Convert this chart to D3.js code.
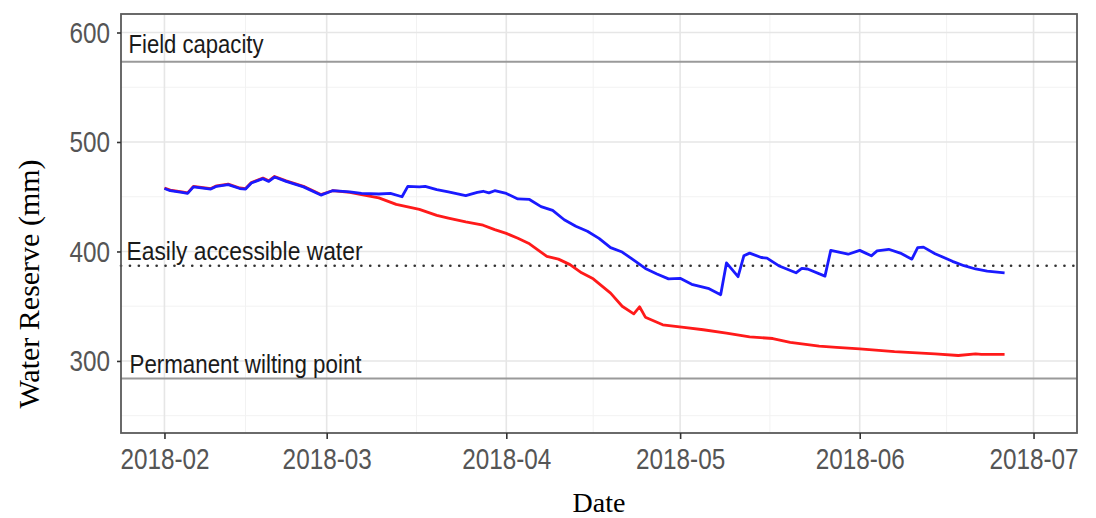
<!DOCTYPE html>
<html>
<head>
<meta charset="utf-8">
<script src="https://cdn.jsdelivr.net/npm/d3@7"></script>
<style>
  body { margin: 0; background: #fff; }
  #chart { width: 1096px; height: 518px; }
</style>
</head>
<body>
<div id="chart"></div>
<script>
'use strict';
// blue series (dates + water reserve, mm)
const blueDates = ["2018-02-01","2018-02-02","2018-02-04","2018-02-05","2018-02-06","2018-02-09","2018-02-10",
  "2018-02-12","2018-02-14","2018-02-15","2018-02-16","2018-02-18","2018-02-19","2018-02-20","2018-02-22",
  "2018-02-25","2018-02-28","2018-03-02","2018-03-05","2018-03-07","2018-03-10","2018-03-12","2018-03-14",
  "2018-03-15","2018-03-17","2018-03-18","2018-03-20","2018-03-22","2018-03-25","2018-03-27","2018-03-28",
  "2018-03-29","2018-03-30","2018-04-01","2018-04-03","2018-04-05","2018-04-07","2018-04-09","2018-04-11",
  "2018-04-13","2018-04-15","2018-04-17","2018-04-19","2018-04-21","2018-04-23","2018-04-25","2018-04-27",
  "2018-04-29","2018-05-01","2018-05-03","2018-05-06","2018-05-08","2018-05-09","2018-05-11","2018-05-12",
  "2018-05-13","2018-05-15","2018-05-16","2018-05-18","2018-05-21","2018-05-22","2018-05-23","2018-05-26",
  "2018-05-27","2018-05-30","2018-06-01","2018-06-03","2018-06-04","2018-06-06","2018-06-08","2018-06-10",
  "2018-06-11","2018-06-12","2018-06-14","2018-06-17","2018-06-19","2018-06-21","2018-06-23","2018-06-26"];
const blueValues = [457.5,455.5,454,453,459,457,459.5,
  461,457.5,457,462.5,466.5,464,468,464,
  459,451.5,455.5,454.5,453,452.5,453,450,
  459.5,459,459.5,456.5,454.5,451,454,455,
  453.5,455.5,453,448,447.5,441,437.5,429,
  423,418.5,412,403.5,399.5,392,384.5,379.5,
  375,375.5,370,366,360.5,389.5,377,396,
  398.5,394.5,394,387,380.5,384.5,384,377.5,
  401,397.5,401,396,400.5,402,398.5,393,
  403.5,404,398,391,387,384,382,380.5];

// red series
const redDates = ["2018-02-01","2018-02-02","2018-02-04","2018-02-05","2018-02-06","2018-02-09","2018-02-10",
  "2018-02-12","2018-02-14","2018-02-15","2018-02-16","2018-02-18","2018-02-19","2018-02-20","2018-02-22",
  "2018-02-25","2018-02-28","2018-03-02","2018-03-05","2018-03-07","2018-03-10","2018-03-13","2018-03-17",
  "2018-03-20","2018-03-22","2018-03-25","2018-03-28","2018-03-30","2018-04-01","2018-04-03","2018-04-05",
  "2018-04-08","2018-04-10","2018-04-12","2018-04-14","2018-04-16","2018-04-19","2018-04-21","2018-04-23",
  "2018-04-24","2018-04-25","2018-04-28","2018-05-02","2018-05-05","2018-05-09","2018-05-13","2018-05-17",
  "2018-05-20","2018-05-25","2018-05-28","2018-06-01","2018-06-07","2018-06-14","2018-06-18","2018-06-21",
  "2018-06-22","2018-06-26"];
const redValues = [458,456,454.5,453.5,459.5,457.5,460,
  461.5,458,457.5,463,467,464.5,468.5,464.5,
  459.5,452,455.5,454,452,449,443,438.5,
  433,430.5,427,424,420,416.5,412,407,
  395.5,393,388,380.5,375,362,350,343,
  349.5,340,333,330.5,328.5,325.5,322,320.5,
  317,313.5,312.5,311,308.5,306.5,305,306.5,
  306,306];

// reference levels
const levelNames = ["Field capacity", "Easily accessible water", "Permanent wilting point"];
const levelValues = [573.3, 387, 284];
const levelDotted = [false, true, false];

const yTicks = [300, 400, 500, 600];
const yMinorTicks = [250, 350, 450, 550];
const xExtent = ["2018-02-01", "2018-07-01"];

function drawChart(divId) {
  let width = 1096, height = 518;
  let panel = { left: 121, right: 1077, top: 14, bottom: 433 };
  let parse = d3.utcParse("%Y-%m-%d");
  let squeeze = 0.81;

  let blue = blueDates.map((d, i) => ({ date: parse(d), value: blueValues[i] }));
  let red = redDates.map((d, i) => ({ date: parse(d), value: redValues[i] }));

  // ggplot style 5% expansion of x range
  let t0 = parse(xExtent[0]).getTime(), t1 = parse(xExtent[1]).getTime();
  let pad = (t1 - t0) * 0.05;
  let x = d3.scaleUtc()
    .domain([new Date(t0 - pad), new Date(t1 + pad)])
    .range([panel.left, panel.right]);
  let y = d3.scaleLinear()
    .domain([234.2, 616.9])
    .range([panel.bottom, panel.top]);

  let svg = d3.select("#" + divId)
    .append("svg")
    .attr("width", width)
    .attr("height", height)
    .style("font-family", "'Liberation Sans', Arial, sans-serif");

  svg.append("rect").attr("width", width).attr("height", height).attr("fill", "#fff");

  // grid
  let xMajor = x.ticks(d3.utcMonth.every(1));
  let xMinor = [];
  for (let i = 0; i < xMajor.length - 1; ++i)
    xMinor.push(new Date((xMajor[i].getTime() + xMajor[i + 1].getTime()) / 2));

  let grid = svg.append("g");
  grid.selectAll("line.xminor").data(xMinor).enter().append("line")
    .attr("x1", d => x(d)).attr("x2", d => x(d))
    .attr("y1", panel.top).attr("y2", panel.bottom)
    .attr("stroke", "#f2f2f2").attr("stroke-width", 1);
  grid.selectAll("line.yminor").data(yMinorTicks).enter().append("line")
    .attr("x1", panel.left).attr("x2", panel.right)
    .attr("y1", d => y(d)).attr("y2", d => y(d))
    .attr("stroke", "#f2f2f2").attr("stroke-width", 1);
  grid.selectAll("line.xmajor").data(xMajor).enter().append("line")
    .attr("x1", d => x(d)).attr("x2", d => x(d))
    .attr("y1", panel.top).attr("y2", panel.bottom)
    .attr("stroke", "#e6e6e6").attr("stroke-width", 1.6);
  grid.selectAll("line.ymajor").data(yTicks).enter().append("line")
    .attr("x1", panel.left).attr("x2", panel.right)
    .attr("y1", d => y(d)).attr("y2", d => y(d))
    .attr("stroke", "#e6e6e6").attr("stroke-width", 1.6);

  // reference lines
  svg.selectAll("line.level").data(levelValues).enter().append("line")
    .attr("x1", panel.left).attr("x2", panel.right)
    .attr("y1", d => y(d)).attr("y2", d => y(d))
    .attr("stroke", (d, i) => levelDotted[i] ? "#333" : "#9a9a9a")
    .attr("stroke-width", (d, i) => levelDotted[i] ? 2.6 : 1.8)
    .attr("stroke-linecap", (d, i) => levelDotted[i] ? "round" : "butt")
    .attr("stroke-dasharray", (d, i) => levelDotted[i] ? "0.1,8.8" : null);

  let labelOffset = [8.5, 6, 5];
  let labelWidth = [135, 236, 232];
  let labelX = [128.5, 126.5, 129.5];
  svg.selectAll("text.level").data(levelNames).enter().append("text")
    .attr("x", (d, i) => labelX[i])
    .attr("y", (d, i) => y(levelValues[i]) - labelOffset[i])
    .attr("font-size", "25px")
    .attr("fill", "#1a1a1a")
    .attr("textLength", (d, i) => labelWidth[i])
    .attr("lengthAdjust", "spacingAndGlyphs")
    .text(d => d);

  // series
  let line = d3.line()
    .x(d => x(d.date))
    .y(d => y(d.value));
  svg.append("path").datum(red)
    .attr("d", line).attr("fill", "none")
    .attr("stroke", "#ff1a1a").attr("stroke-width", 2.8)
    .attr("stroke-linejoin", "round");
  svg.append("path").datum(blue)
    .attr("d", line).attr("fill", "none")
    .attr("stroke", "#1a1aff").attr("stroke-width", 2.8)
    .attr("stroke-linejoin", "round");

  // panel border
  svg.append("rect")
    .attr("x", panel.left).attr("y", panel.top)
    .attr("width", panel.right - panel.left).attr("height", panel.bottom - panel.top)
    .attr("fill", "none").attr("stroke", "#5a5a5a").attr("stroke-width", 1.8);

  // axes
  let xAxis = d3.axisBottom(x).tickValues(xMajor)
    .tickFormat(d3.utcFormat("%Y-%m")).tickSize(6).tickPadding(9);
  let yAxis = d3.axisLeft(y).tickValues(yTicks).tickSize(4).tickPadding(7);

  let gx = svg.append("g")
    .attr("transform", "translate(0," + panel.bottom + ")")
    .call(xAxis);
  let gy = svg.append("g")
    .attr("transform", "translate(" + panel.left + ",0)")
    .call(yAxis);

  [gx, gy].forEach(function (g) {
    g.select(".domain").remove();
    g.selectAll(".tick line").attr("stroke", "#333").attr("stroke-width", 1.6);
    g.selectAll(".tick text")
      .attr("font-family", "'Liberation Sans', Arial, sans-serif")
      .attr("font-size", "30px")
      .attr("fill", "#555")
      .each(function () {
        //squeeze the labels horizontally, the source used a narrow face
        let t = d3.select(this);
        t.attr("x", +t.attr("x") / squeeze)
          .attr("transform", "scale(" + squeeze + ",1)");
      });
  });

  // axis titles
  svg.append("text")
    .attr("x", 599).attr("y", 512)
    .attr("text-anchor", "middle")
    .attr("font-family", "'Liberation Serif', 'Times New Roman', serif")
    .attr("font-size", "28px")
    .attr("fill", "#000")
    .text("Date");
  svg.append("text")
    .attr("transform", "translate(39,284) rotate(-90)")
    .attr("text-anchor", "middle")
    .attr("font-family", "'Liberation Serif', 'Times New Roman', serif")
    .attr("font-size", "30px")
    .attr("fill", "#000")
    .text("Water Reserve (mm)");
}

drawChart("chart");
</script>
</body>
</html>
